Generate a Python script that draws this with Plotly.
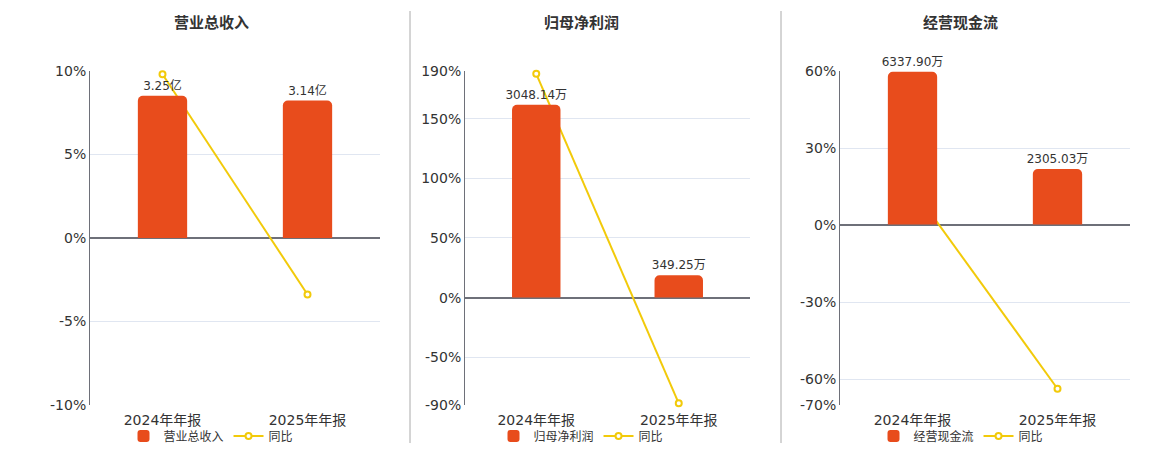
import plotly.graph_objects as go

# -- data --
periods = ['2024年年报', '2025年年报']

titles = ['营业总收入', '归母净利润', '经营现金流']

revenue = [3.25, 3.14]          # 亿
revenue_text = ['3.25亿', '3.14亿']
revenue_yoy = [9.8, -3.38]      # %

profit = [3048.14, 349.25]      # 万
profit_text = ['3048.14万', '349.25万']
profit_yoy = [187.5, -88.54]

cashflow = [6337.90, 2305.03]   # 万
cashflow_text = ['6337.90万', '2305.03万']
cashflow_yoy = [14.4, -63.63]

pct_ticks = [[10, 5, 0, -5, -10],
             [190, 150, 100, 50, 0, -50, -90],
             [60, 30, 0, -30, -60, -70]]

W, H = 1160, 450
BAR = '#E84C1C'
LINE = '#F2CA0A'
FONT = 'DejaVu Sans, Noto Sans CJK SC, sans-serif'

# page offsets seen in the screenshot (body margin etc.)
OX, OY, HS = 8, 15, 435


def fx(px):
    return (px - OX) / W


def fy(py):
    return 1 - (py - OY) / HS


# panel geometry in screen pixels
px_x = [(90, 380), (465, 750), (840, 1130)]
centers = [211, 581, 961]
bar_ranges = [[-3.82, 3.82], [-1705, 3585], [-7497, 6379]]

panels = [(revenue, revenue_text, revenue_yoy),
          (profit, profit_text, profit_yoy),
          (cashflow, cashflow_text, cashflow_yoy)]

fig = go.Figure()
layout = {}
for i, ((bars, btext, yoy), ticks) in enumerate(zip(panels, pct_ticks)):
    n = i + 1
    xa = 'x' if n == 1 else f'x{n}'
    ya = 'y' if n == 1 else f'y{n}'
    yb = f'y{n + 3}'
    leg = 'legend' if n == 1 else f'legend{n}'

    fig.add_trace(go.Bar(x=periods, y=bars, text=btext, name=titles[i],
                         marker=dict(color=BAR, line=dict(width=0)), width=0.34,
                         textposition='outside', cliponaxis=False, constraintext='none',
                         textfont=dict(size=12, color='#333'),
                         xaxis=xa, yaxis=yb, legend=leg))
    fig.add_trace(go.Scatter(x=periods, y=yoy, name='同比', mode='lines+markers',
                             line=dict(color=LINE, width=2),
                             marker=dict(symbol='circle', size=6, color='white',
                                         line=dict(color=LINE, width=2)),
                             cliponaxis=False,
                             xaxis=xa, yaxis=ya, legend=leg))

    x0, x1 = px_x[i]
    ydom = [fy(405), fy(70)]
    layout['xaxis' if n == 1 else f'xaxis{n}'] = dict(
        domain=[fx(x0), fx(x1)], anchor=ya, showgrid=False, showline=False,
        ticks='', ticklabelstandoff=5,
        tickfont=dict(size=14, color='#333'), fixedrange=True)
    layout['yaxis' if n == 1 else f'yaxis{n}'] = dict(
        domain=ydom, anchor=xa, range=[ticks[-1], ticks[0]],
        tickvals=ticks, ticktext=[f'{t}%' for t in ticks],
        tickfont=dict(size=14, color='#333'),
        showgrid=True, gridcolor='#E0E6F1', gridwidth=1,
        zeroline=True, zerolinecolor='#6E7079', zerolinewidth=2,
        showline=True, linecolor='#6E7079', linewidth=1, ticks='')
    layout[f'yaxis{n + 3}'] = dict(
        domain=ydom, anchor=xa, overlaying=ya, range=bar_ranges[i],
        visible=False, showgrid=False, zeroline=False)
    layout[leg] = dict(orientation='h', x=fx(centers[i]), xanchor='center',
                       y=fy(436), yanchor='middle',
                       font=dict(size=12, color='#333'), itemwidth=30,
                       bgcolor='rgba(0,0,0,0)')
    fig.add_annotation(x=fx(centers[i]), y=fy(22), xref='paper', yref='paper',
                       xanchor='center', yanchor='middle',
                       text=f'<b>{titles[i]}</b>', showarrow=False,
                       font=dict(size=15, color='#333'))

# separators between panels
for sx in (410, 781):
    fig.add_shape(type='line', xref='paper', yref='paper',
                  x0=fx(sx), x1=fx(sx), y0=fy(443), y1=fy(10),
                  line=dict(color='#AAAAAA', width=1))

fig.update_layout(**layout)
fig.update_layout(width=W, height=H, margin=dict(l=0, r=0, t=0, b=0),
                  paper_bgcolor='white', plot_bgcolor='white',
                  font=dict(family=FONT, color='#333'),
                  barcornerradius=5, showlegend=True)
fig.write_html('out.html')
